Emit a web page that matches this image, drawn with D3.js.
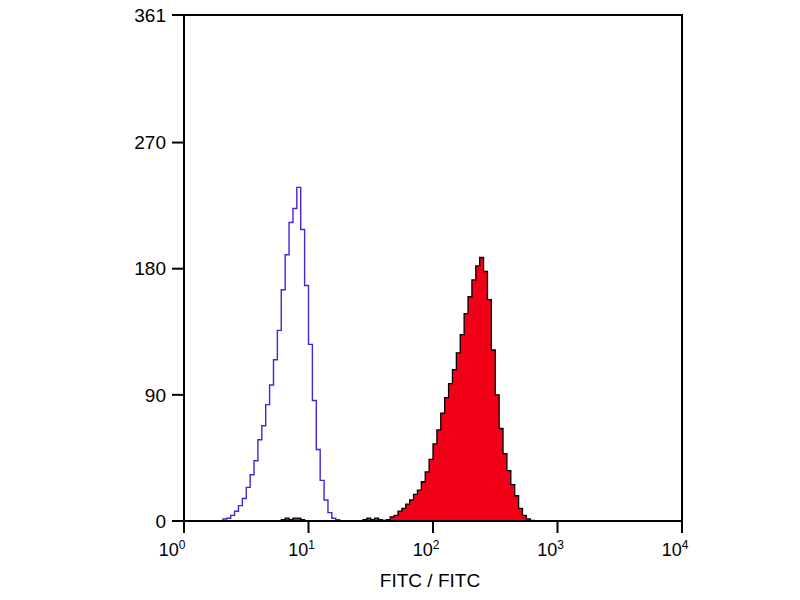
<!DOCTYPE html>
<html>
<head>
<meta charset="utf-8">
<script src="https://cdn.jsdelivr.net/npm/d3@7"></script>
<style>
  body { margin: 0; background: #fff; }
  text { font-family: Arial, "Liberation Sans", sans-serif; fill: #000; }
</style>
</head>
<body>
<div class="chart"></div>
<script>
// histogram channels: 32 channels per decade, 4 decades (10^0 .. 10^4)
var binsPerDecade = 32;

// isotype control (blue outline)
var controlStart = 10;
var controlCounts = [1.4, 2, 4, 7, 11, 16, 24, 33, 43, 58, 68, 83, 97, 115, 136, 165,
  190, 213, 223, 238, 208, 168, 126, 86, 51, 29, 15, 6, 2, 1];

// stained sample (red fill, black outline)
var sampleStart = 24;
var sampleCounts = [0, 1, 2, 1, 2, 2, 1, 0,
  0, 0, 0, 0, 0, 0, 0, 0, 0, 0, 0, 0, 0, 0,
  1, 2, 1, 2, 1, 0.5, 1, 3, 4, 7, 9, 12, 15, 19, 22, 28, 35, 44, 55, 65, 77, 88,
  98, 108, 120, 133, 148, 160, 172, 182, 188, 178, 158, 122, 90, 66, 48, 36, 26,
  18, 9, 4, 1.5, 0.5];

var yTicks = [0, 90, 180, 270, 361];
var xTicks = [1, 10, 100, 1000, 10000];
var xTickExp = ["0", "1", "2", "3", "4"];
var xTitle = "FITC / FITC";

var NS = {};
NS.width = 800;
NS.height = 600;
NS.left = 184;
NS.right = 682;
NS.top = 15;
NS.bottom = 521;

var svg = d3.select(".chart").append("svg")
  .attr("width", NS.width).attr("height", NS.height);

var x = d3.scaleLog().domain([1, 10000]).range([NS.left, NS.right]);
var y = d3.scaleLinear().domain([0, 361]).range([NS.bottom, NS.top]);

function channelValue(i) { return Math.pow(10, i / binsPerDecade); }

// turn channel counts into step points
function steps(start, counts) {
  var pts = [{v: channelValue(start), c: 0}];
  counts.forEach(function(c, k) { pts.push({v: channelValue(start + k), c: c}); });
  pts.push({v: channelValue(start + counts.length), c: 0});
  return pts;
}

var samplePts = steps(sampleStart, sampleCounts);
var controlPts = steps(controlStart, controlCounts);

var area = d3.area().curve(d3.curveStepAfter)
  .x(function(d) { return x(d.v); })
  .y0(y(0))
  .y1(function(d) { return y(d.c); });
var line = d3.line().curve(d3.curveStepAfter)
  .x(function(d) { return x(d.v); })
  .y(function(d) { return y(d.c); });

svg.append("path").datum(samplePts)
  .attr("d", area)
  .attr("fill", "#f10018");
svg.append("path").datum(samplePts)
  .attr("d", line)
  .attr("fill", "none")
  .attr("stroke", "#000")
  .attr("stroke-width", 1.3);

svg.append("path").datum(controlPts)
  .attr("d", line)
  .attr("fill", "none")
  .attr("stroke", "#4a22d4")
  .attr("stroke-width", 1.4);

// frame
svg.append("path")
  .attr("d", "M" + NS.left + "," + NS.bottom + "V" + NS.top + "H" + NS.right + "V" + NS.bottom + "H" + NS.left)
  .attr("stroke", "#000").attr("stroke-width", 2).attr("fill", "none");

// y axis
var yAxis = svg.append("g");
yAxis.selectAll("line").data(yTicks).enter().append("line")
  .attr("x1", NS.left - 12).attr("x2", NS.left)
  .attr("y1", function(d) { return y(d); }).attr("y2", function(d) { return y(d); })
  .attr("stroke", "#000").attr("stroke-width", 2);
yAxis.selectAll("text").data(yTicks).enter().append("text")
  .attr("x", NS.left - 18)
  .attr("y", function(d) { return y(d); })
  .attr("dy", "0.35em")
  .attr("text-anchor", "end")
  .style("font-size", "19px")
  .text(function(d) { return d; });

// x axis
var xAxis = svg.append("g");
xAxis.selectAll("line").data(xTicks).enter().append("line")
  .attr("x1", function(d) { return x(d); }).attr("x2", function(d) { return x(d); })
  .attr("y1", NS.bottom).attr("y2", NS.bottom + 12)
  .attr("stroke", "#000").attr("stroke-width", 2);
var xl = xAxis.selectAll("text").data(xTicks).enter().append("text")
  .attr("x", function(d, i) { return x(d) - (i == 0 ? 12 : 7); })
  .attr("y", 556)
  .attr("text-anchor", "middle")
  .style("font-size", "18px");
xl.append("tspan").text("10");
xl.append("tspan")
  .attr("dy", -7)
  .style("font-size", "12px")
  .text(function(d, i) { return xTickExp[i]; });

svg.append("text")
  .attr("x", 430).attr("y", 587)
  .attr("text-anchor", "middle")
  .style("font-size", "19px")
  .text(xTitle);
</script>
</body>
</html>
